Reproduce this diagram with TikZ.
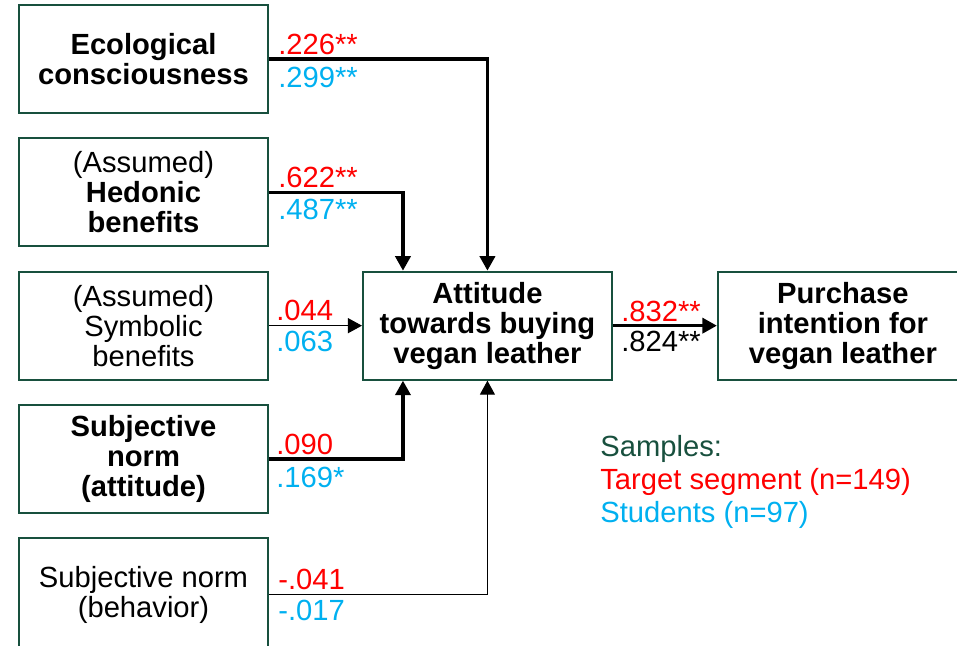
\documentclass[tikz,border=0pt]{standalone}
\usepackage{fontspec}
\setmainfont{Liberation Sans}
\usepackage{xcolor}
\usepackage{tikz}
\usetikzlibrary{arrows.meta, positioning, calc}

\definecolor{boxgreen}{RGB}{24,80,62}
\definecolor{tgtred}{RGB}{255,0,0}
\definecolor{stublue}{RGB}{0,176,240}
\newcommand{\fsz}{\fontsize{16.6}{17.1}\selectfont}

\begin{document}
\begin{tikzpicture}[
    node distance=0.468cm and 1.86cm,
    cbox/.style={rectangle, draw=boxgreen, line width=1.1pt,
                 minimum height=2.16cm, minimum width=4.98cm,
                 align=center, font=\fsz, inner sep=2pt},
    coefr/.style={anchor=base west, inner sep=0pt, font=\fsz, text=tgtred},
    coefb/.style={anchor=base west, inner sep=0pt, font=\fsz, text=stublue},
    legend/.style={anchor=base west, inner sep=0pt, font=\fsz},
    bold/.style={-{Triangle[length=0.29cm, width=0.3cm]}, line width=2pt},
    thin/.style={-{Triangle[length=0.28cm, width=0.3cm]}, line width=0.6pt},
]
\useasboundingbox (0,0) rectangle (19.14,-12.9);

%% Predictors
\node[cbox] (eco) at (2.87,-1.18) {\textbf{Ecological}\\\textbf{consciousness}};
\node[cbox, below=of eco] (hed) {(Assumed)\\\textbf{Hedonic}\\\textbf{benefits}};
\node[cbox, below=of hed] (sym) {(Assumed)\\Symbolic\\benefits};
\node[cbox, below=of sym] (sna) {\textbf{Subjective}\\\textbf{norm}\\\textbf{(attitude)}};
\node[cbox, below=of sna, minimum height=2.26cm] (snb) {Subjective norm\\(behavior)};

%% Attitude and intention
\node[cbox, right=of sym] (att) {\textbf{Attitude}\\\textbf{towards buying}\\\textbf{vegan leather}};
\node[cbox, right=2.08cm of att, minimum width=5cm] (pur) {\textbf{Purchase}\\\textbf{intention for}\\\textbf{vegan leather}};

%% Paths
\draw[bold] (eco.east) -| (att.north);
\draw[bold] (hed.east) -| ([xshift=0.82cm]att.north west);
\draw[thin] (sym.east) -- (sym.east -| att.west);
\draw[bold] (sna.east) -| ([xshift=0.82cm]att.south west);
\draw[thin] (snb.east) -| (att.south);
\draw[bold] (att) -- (pur);

%% Coefficients
\node[coefr] (ecoR) at ([xshift=0.18cm, yshift=0.09cm]eco.east) {.226**};
\node[coefb] (ecoB) at ([xshift=0.18cm, yshift=-0.56cm]eco.east) {.299**};
\node[coefr] (hedR) at ([xshift=0.18cm, yshift=0.09cm]hed.east) {.622**};
\node[coefb] (hedB) at ([xshift=0.18cm, yshift=-0.54cm]hed.east) {.487**};
\node[coefr] (symR) at ([xshift=0.14cm, yshift=0.1cm]sym.east) {.044};
\node[coefb] (symB) at ([xshift=0.14cm, yshift=-0.52cm]sym.east) {.063};
\node[coefr] (snaR) at ([xshift=0.14cm, yshift=0.09cm]sna.east) {.090};
\node[coefb] (snaB) at ([xshift=0.14cm, yshift=-0.56cm]sna.east) {.169*};
\node[coefr] (snbR) at ([xshift=0.18cm, yshift=0.1cm]snb.east) {-.041};
\node[coefb] (snbB) at ([xshift=0.18cm, yshift=-0.52cm]snb.east) {-.017};
\node[coefr] (purR) at ([xshift=0.16cm, yshift=0.09cm]att.east) {.832**};
\node[coefb, text=black] (purB) at ([xshift=0.16cm, yshift=-0.52cm]att.east) {.824**};

%% Legend
\node[legend, text=boxgreen] (legT) at (12.0,-9.12) {Samples:};
\node[legend, text=tgtred]   (legR) at (12.0,-9.78) {Target segment (n=149)};
\node[legend, text=stublue]  (legB) at (12.0,-10.44) {Students (n=97)};
\end{tikzpicture}
\end{document}
